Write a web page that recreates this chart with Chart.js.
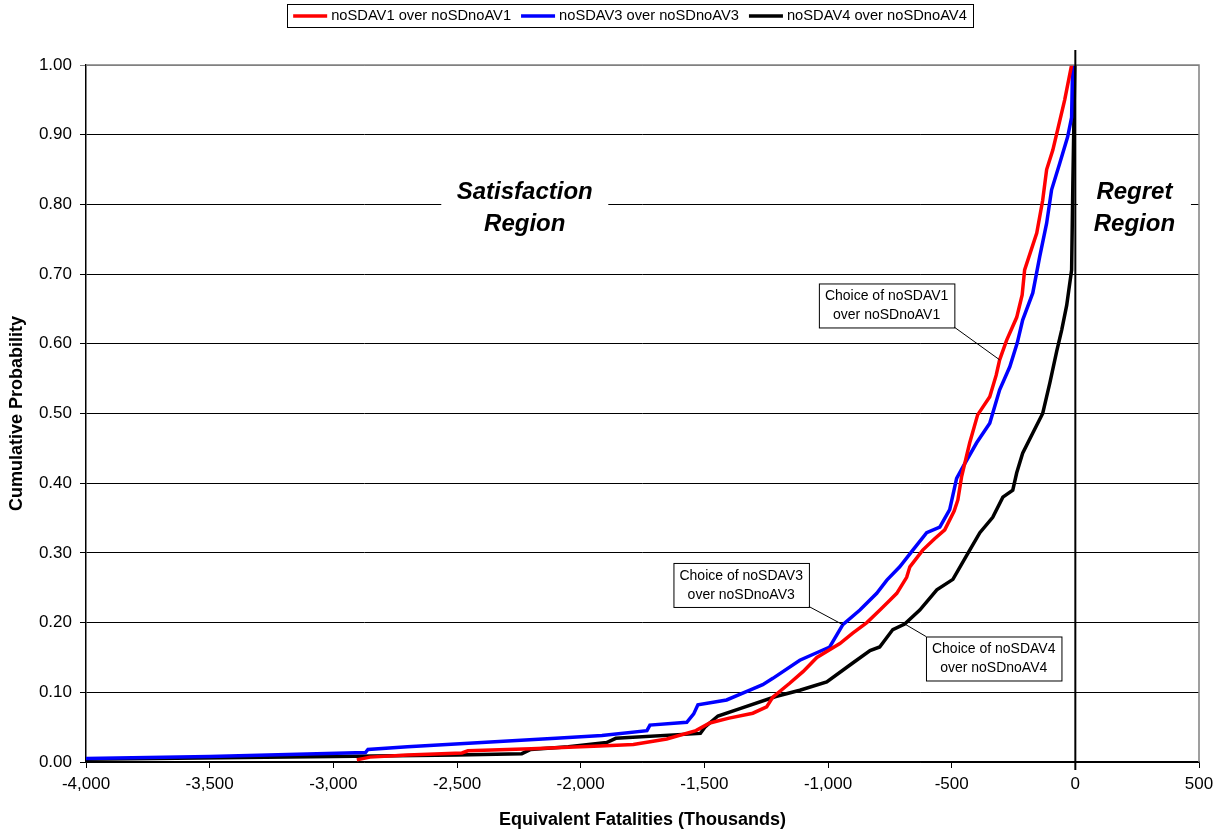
<!DOCTYPE html>
<html>
<head>
<meta charset="utf-8">
<script src="https://cdn.jsdelivr.net/npm/chart.js@4.4.1/dist/chart.umd.min.js"></script>
<style>
  body { margin: 0; background: #fff; }
  #wrap { width: 1223px; height: 832px; position: relative; }
</style>
</head>
<body>
<div id="wrap"><canvas id="myChart"></canvas></div>
<script>
// series labels
const seriesNames = ['noSDAV1 over noSDnoAV1', 'noSDAV3 over noSDnoAV3', 'noSDAV4 over noSDnoAV4'];
const seriesColors = ['#ff0000', '#0000ff', '#000000'];

// noSDAV1 over noSDnoAV1 (x = fatalities, p = cumulative probability)
const av1X = [-2905, -2852, -2700, -2480, -2456, -2200, -1922, -1787, -1652, -1534, -1478, -1400, -1304, -1248, -1223, -1155, -1100, -1045, -952, -900, -843, -790, -750, -722, -682, -669, -617, -570, -528, -490, -475, -460, -427, -395, -346, -320, -306, -278, -237, -215, -205, -156, -132, -116, -91, -75, -43, -15];
const av1P = [0.003, 0.007, 0.010, 0.013, 0.016, 0.019, 0.023, 0.025, 0.033, 0.045, 0.056, 0.063, 0.070, 0.079, 0.093, 0.113, 0.130, 0.150, 0.170, 0.185, 0.200, 0.218, 0.232, 0.242, 0.265, 0.280, 0.304, 0.320, 0.333, 0.360, 0.376, 0.409, 0.458, 0.498, 0.524, 0.555, 0.577, 0.605, 0.638, 0.670, 0.706, 0.759, 0.806, 0.850, 0.878, 0.902, 0.950, 1.000];

// noSDAV3 over noSDnoAV3
const av3X = [-4000, -3500, -2870, -2860, -2700, -2400, -2100, -1914, -1732, -1720, -1571, -1543, -1526, -1410, -1316, -1264, -1223, -1114, -993, -940, -871, -803, -762, -710, -657, -601, -548, -508, -480, -455, -399, -346, -306, -265, -235, -213, -172, -144, -116, -96, -63, -31, -15, -11];
const av3P = [0.005, 0.008, 0.0136, 0.018, 0.022, 0.028, 0.034, 0.038, 0.045, 0.053, 0.057, 0.069, 0.082, 0.089, 0.103, 0.111, 0.120, 0.146, 0.165, 0.197, 0.218, 0.242, 0.261, 0.280, 0.304, 0.329, 0.337, 0.362, 0.407, 0.423, 0.458, 0.486, 0.534, 0.567, 0.601, 0.634, 0.673, 0.725, 0.773, 0.821, 0.859, 0.897, 0.925, 1.000];

// noSDAV4 over noSDnoAV4
const av4X = [-4000, -3000, -2500, -2238, -2202, -2050, -1895, -1858, -1516, -1498, -1445, -1353, -1211, -1114, -1005, -900, -830, -791, -738, -690, -629, -560, -495, -427, -386, -334, -293, -253, -237, -213, -172, -132, -103, -75, -55, -35, -15, -10, -2];
const av4P = [0.004, 0.008, 0.010, 0.012, 0.018, 0.022, 0.028, 0.034, 0.041, 0.050, 0.066, 0.077, 0.094, 0.103, 0.115, 0.142, 0.160, 0.165, 0.190, 0.198, 0.218, 0.247, 0.262, 0.304, 0.329, 0.351, 0.380, 0.390, 0.415, 0.443, 0.472, 0.500, 0.544, 0.590, 0.620, 0.655, 0.706, 0.830, 1.000];

// axis range / ticks
const xMin = -4000, xMax = 500, xStep = 500;
const yMin = 0, yMax = 1, yStep = 0.1;

// callouts: [text lines, box centre (data), leader start corner, leader end (data)]
const callouts = [
  { lines: ['Choice of noSDAV1', 'over noSDnoAV1'], cx: -763, cy: 0.655, corner: 'br', tx: -306, ty: 0.577 },
  { lines: ['Choice of noSDAV3', 'over noSDnoAV3'], cx: -1351, cy: 0.254, corner: 'br', tx: -940, ty: 0.197 },
  { lines: ['Choice of noSDAV4', 'over noSDnoAV4'], cx: -330, cy: 0.1485, corner: 'tl', tx: -690, ty: 0.198 }
];
const regions = [
  { lines: ['Satisfaction', 'Region'], cx: -2226, cy: 0.795, w: 167 },
  { lines: ['Regret', 'Region'], cx: 239, cy: 0.795, w: 113 }
];

function toPoints(xs, ps) {
  return xs.map((x, i) => ({ x: x, y: ps[i] }));
}

const extras = {
  id: 'extras',
  afterDatasetsDraw(chart) {
    const ctx = chart.ctx;
    const xs = chart.scales.x, ys = chart.scales.y;
    const a = chart.chartArea;
    ctx.save();
    // gray frame top / right
    ctx.strokeStyle = '#808080';
    ctx.lineWidth = 1.5;
    ctx.beginPath();
    ctx.moveTo(a.left, a.top); ctx.lineTo(a.right, a.top); ctx.lineTo(a.right, a.bottom);
    ctx.stroke();

    // zero line
    const x0 = xs.getPixelForValue(0);
    ctx.strokeStyle = '#000';
    ctx.lineWidth = 2;
    ctx.beginPath();
    ctx.moveTo(x0, a.top - 15); ctx.lineTo(x0, a.bottom + 8);
    ctx.stroke();

    // region labels
    ctx.font = 'italic bold 24px "Liberation Sans", Arial, sans-serif';
    ctx.textAlign = 'center';
    ctx.textBaseline = 'middle';
    regions.forEach(r => {
      const px = xs.getPixelForValue(r.cx), py = ys.getPixelForValue(r.cy);
      ctx.fillStyle = '#fff';
      ctx.fillRect(px - r.w / 2, py - 30, r.w, 60);
      ctx.fillStyle = '#000';
      ctx.fillText(r.lines[0], px, py - 16);
      ctx.fillText(r.lines[1], px, py + 16);
    });

    // callout boxes
    ctx.font = '14px "Liberation Sans", Arial, sans-serif';
    callouts.forEach(c => {
      const px = xs.getPixelForValue(c.cx), py = ys.getPixelForValue(c.cy);
      const w = Math.max(...c.lines.map(t => ctx.measureText(t).width)) + 12;
      const h = 44;
      const l = px - w / 2, t = py - h / 2;
      const sx = c.corner === 'br' ? l + w - 1 : l;
      const sy = c.corner === 'br' ? t + h - 1 : t;
      ctx.strokeStyle = '#000';
      ctx.lineWidth = 1;
      ctx.beginPath();
      ctx.moveTo(sx, sy);
      ctx.lineTo(xs.getPixelForValue(c.tx), ys.getPixelForValue(c.ty));
      ctx.stroke();
      ctx.fillStyle = '#fff';
      ctx.fillRect(l, t, w, h);
      ctx.strokeRect(l + 0.5, t + 0.5, w, h);
      ctx.fillStyle = '#000';
      ctx.fillText(c.lines[0], px, py - 9);
      ctx.fillText(c.lines[1], px, py + 10);
    });

    // legend
    ctx.font = '14.7px "Liberation Sans", Arial, sans-serif';
    ctx.textAlign = 'left';
    const sample = 34, gapS = 4, gapI = 10, padL = 6;
    const items = chart.data.datasets.map(d => ({ label: d.label, color: d.borderColor, w: ctx.measureText(d.label).width }));
    let total = padL * 2 + items.reduce((s, it) => s + sample + gapS + it.w, 0) + gapI * (items.length - 1);
    let lx = 630 - total / 2;
    ctx.strokeStyle = '#000';
    ctx.lineWidth = 1;
    ctx.strokeRect(Math.round(lx) + 0.5, 4.5, Math.round(total), 23);
    let cx = lx + padL;
    items.forEach(it => {
      ctx.strokeStyle = it.color;
      ctx.lineWidth = 3.5;
      ctx.beginPath();
      ctx.moveTo(cx, 16); ctx.lineTo(cx + sample, 16);
      ctx.stroke();
      ctx.fillStyle = '#000';
      ctx.fillText(it.label, cx + sample + gapS, 16);
      cx += sample + gapS + it.w + gapI;
    });
    ctx.restore();
  }
};

const ctx = document.getElementById('myChart');

new Chart(ctx, {
  type: 'scatter',
  data: {
    datasets: [
      { label: seriesNames[0], data: toPoints(av1X, av1P), borderColor: seriesColors[0] },
      { label: seriesNames[1], data: toPoints(av3X, av3P), borderColor: seriesColors[1] },
      { label: seriesNames[2], data: toPoints(av4X, av4P), borderColor: seriesColors[2] }
    ].map(d => Object.assign(d, { showLine: true, pointRadius: 0, borderWidth: 3.5, backgroundColor: d.borderColor, tension: 0 }))
  },
  options: {
    responsive: true,
    maintainAspectRatio: false,
    animation: false,
    layout: { padding: { top: 65, right: 24, left: 0, bottom: 0 } },
    plugins: {
      legend: { display: false },
      tooltip: { enabled: false }
    },
    scales: {
      x: {
        type: 'linear',
        min: xMin, max: xMax,
        ticks: {
          stepSize: xStep,
          color: '#000',
          padding: 6,
          font: { family: '"Liberation Sans", Arial, sans-serif', size: 17 },
          callback: v => v.toLocaleString('en-US')
        },
        grid: { drawOnChartArea: false, drawTicks: true, tickLength: 6, color: '#000' },
        border: { color: '#000', width: 1.5 },
        title: {
          display: true,
          text: 'Equivalent Fatalities (Thousands)',
          color: '#000',
          font: { family: '"Liberation Sans", Arial, sans-serif', size: 18, weight: 'bold' },
          padding: { top: 0, bottom: 1 }
        },
        afterFit: s => { s.height = 70; }
      },
      y: {
        min: yMin, max: yMax,
        ticks: {
          stepSize: yStep,
          color: '#000',
          padding: 8,
          font: { family: '"Liberation Sans", Arial, sans-serif', size: 17 },
          callback: v => v.toFixed(2)
        },
        grid: {
          color: c => (c.tick && c.tick.value >= 1 ? '#808080' : '#000'),
          tickLength: 6,
          lineWidth: 1
        },
        border: { color: '#000', width: 1.5 },
        title: {
          display: true,
          text: 'Cumulative Probability',
          color: '#000',
          font: { family: '"Liberation Sans", Arial, sans-serif', size: 18, weight: 'bold' },
          padding: { top: 6, bottom: 0 }
        },
        afterFit: s => { s.width = 86; }
      }
    }
  },
  plugins: [extras]
});
</script>
</body>
</html>
